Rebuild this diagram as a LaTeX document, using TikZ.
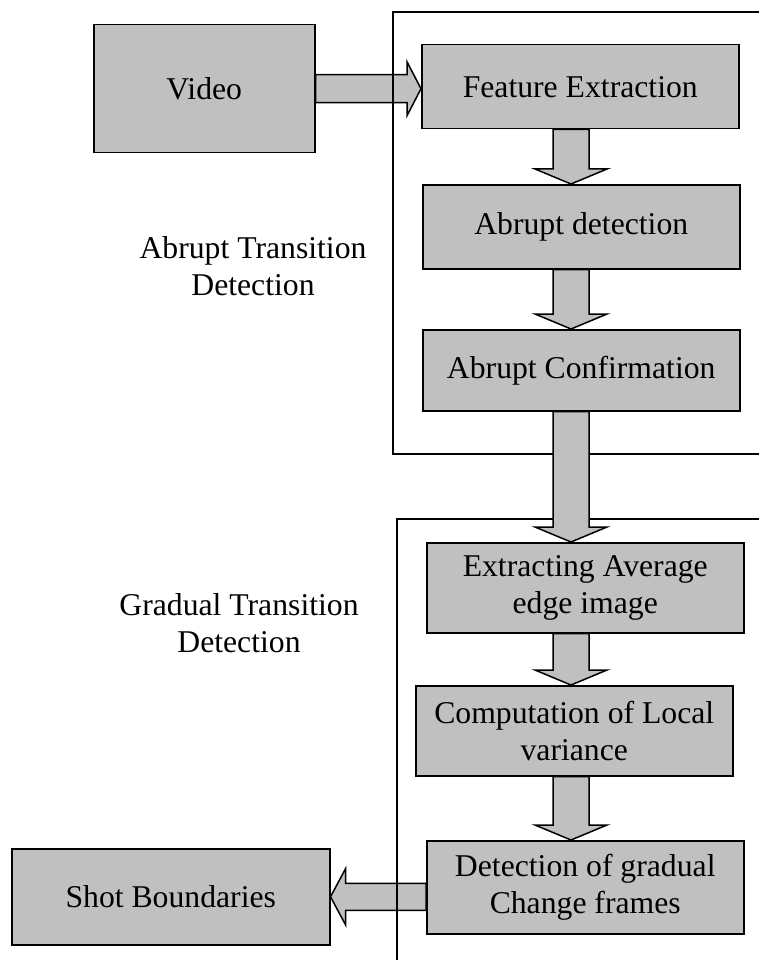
\documentclass[tikz,border=0pt]{standalone}
\usepackage{fontspec}
\setmainfont{Liberation Serif}
\usetikzlibrary{calc}
\definecolor{boxgray}{RGB}{192,192,192}
\tikzset{
  box/.style={draw=black, fill=boxgray, line width=1.5pt, align=center, inner sep=0pt,
    anchor=north west, font=\fontsize{31.7}{37}\selectfont},
  lbl/.style={align=center, inner sep=0pt, font=\fontsize{31.7}{37}\selectfont},
  blockarrow/.style={draw=black, fill=boxgray, line width=1.5pt, line join=miter},
  frameline/.style={draw=black, line width=1.5pt}
}
\newcommand{\vblock}[3]{%
  \path[blockarrow] let \p1=(#1.south), \p2=(#2.north) in
    ({#3pt-18pt},\y1) -- ({#3pt+18pt},\y1) -- ({#3pt+18pt},\y2+15pt) -- ({#3pt+36pt},\y2+15pt)
    -- ({#3pt},\y2) -- ({#3pt-36pt},\y2+15pt) -- ({#3pt-18pt},\y2+15pt) -- cycle;}
\begin{document}
\begin{tikzpicture}[x=1pt,y=-1pt]
\useasboundingbox (0,0) rectangle (758,960);
% boxes
\node[box, minimum width=221pt, minimum height=128pt] (video) at (93,24) {Video};
\node[box, minimum width=317pt, minimum height=84pt] (fe) at (421,44) {Feature Extraction};
\node[box, minimum width=317pt, minimum height=84pt] (ad) at (422,184) {Abrupt detection};
\node[box, minimum width=317pt, minimum height=81pt] (ac) at (422,329) {Abrupt Confirmation};
\node[box, minimum width=317pt, minimum height=90pt] (ea) at (426,542) {Extracting Average\\edge image};
\node[box, minimum width=317pt, minimum height=90pt] (cl) at (415,685) {Computation of Local\\variance};
\node[box, minimum width=317pt, minimum height=93pt] (dg) at (426,840) {Detection of gradual\\Change frames};
\node[box, minimum width=318pt, minimum height=96pt] (sb) at (11,848) {Shot Boundaries};
% labels
\node[lbl] (lab1) at (253,266) {Abrupt Transition\\Detection};
\node[lbl] (lab2) at (239,623) {Gradual Transition\\Detection};
% horizontal block arrows
\path[blockarrow] let \p1=(video.east), \p2=(fe.west) in
  (\x1,\y1+14pt) -- (\x2-14pt,\y1+14pt) -- (\x2-14pt,\y1+27pt) -- (\x2,\y1)
  -- (\x2-14pt,\y1-27pt) -- (\x2-14pt,\y1-14pt) -- (\x1,\y1-14pt) -- cycle;
\path[blockarrow] let \p1=(dg.west), \p2=(sb.east) in
  (\x1,\y2+13.5pt) -- (\x2+15pt,\y2+13.5pt) -- (\x2+15pt,\y2+28pt) -- (\x2,\y2)
  -- (\x2+15pt,\y2-28pt) -- (\x2+15pt,\y2-13.5pt) -- (\x1,\y2-13.5pt) -- cycle;
% frames
\draw[frameline] (760,12) -- (393,12) -- (393,454) -- (760,454);
\draw[frameline] (760,519) -- (397,519) -- (397,962);
% vertical block arrows
\vblock{fe}{ad}{571}
\vblock{ad}{ac}{571}
\vblock{ac}{ea}{571}
\vblock{ea}{cl}{571}
\vblock{cl}{dg}{571}
\end{tikzpicture}
\end{document}
